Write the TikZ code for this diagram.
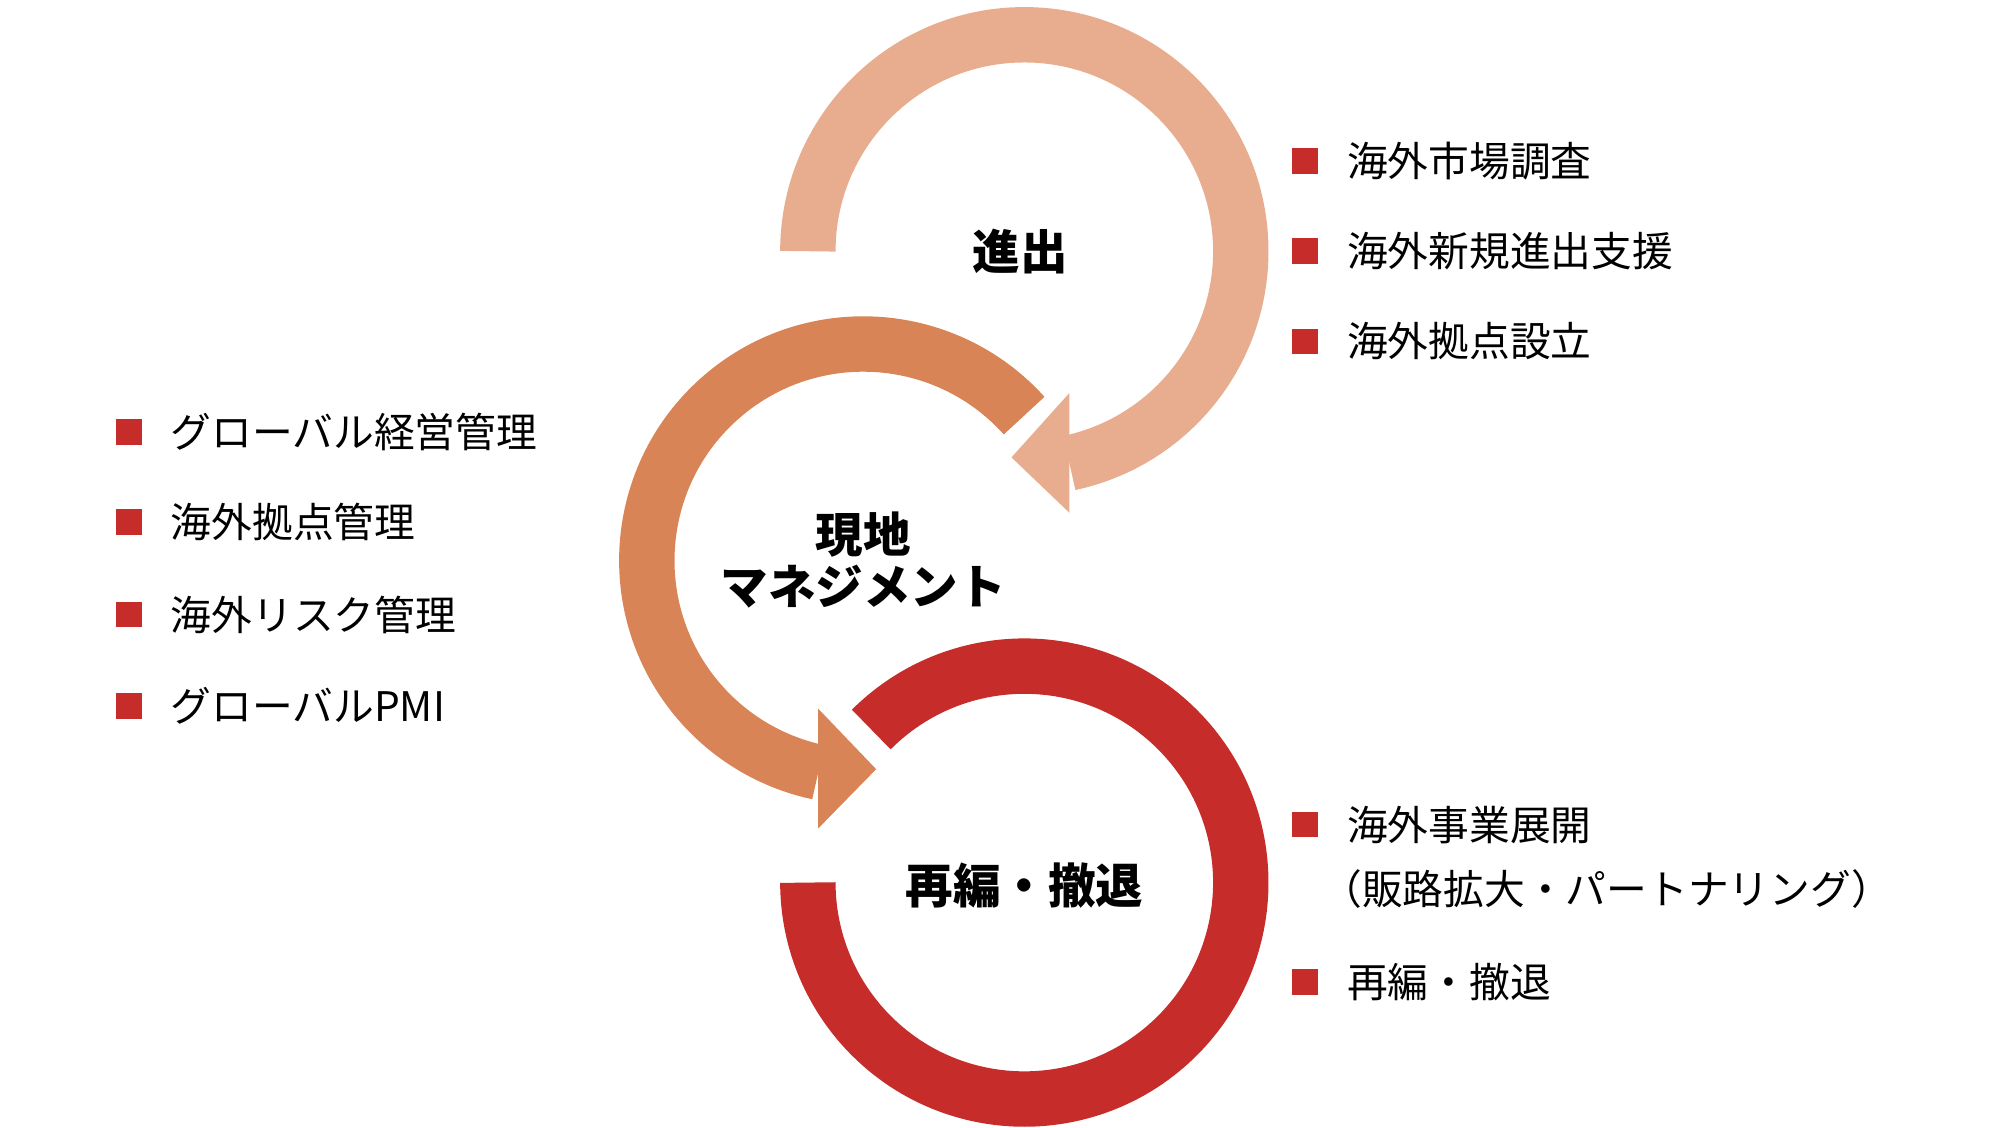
\documentclass[tikz,border=0pt]{standalone}
\usepackage{fontspec}
\setmainfont{Noto Sans CJK JP}
\definecolor{ringA}{HTML}{E8AD8E}
\definecolor{ringB}{HTML}{D98457}
\definecolor{ringC}{HTML}{C62D2A}
\tikzset{
  ring/.style={line width=43*0.02cm},
  hub/.style={font=\fontsize{21}{25}\selectfont\bfseries, align=center},
  item/.style={anchor=west, font=\fontsize{18}{22}\selectfont},
  bullet/.style={fill=ringC, minimum size=20*0.02cm, inner sep=0pt}
}
\newcommand{\listitem}[3]{
  \node[bullet] (b#1) at (#2) {};
  \node[item] (t#1) at ([xshift=16*0.02cm]b#1.east) {#3};
}
\begin{document}
\begin{tikzpicture}[x=0.02cm,y=0.02cm]
\useasboundingbox (0,0) rectangle (1560,875);
% rings
\draw[ring, ringA] (795,680) ++(180:168) arc (180:-78:168);
\fill[ringA] (830,570) -- (785,520) -- (830,477) -- cycle;
\draw[ring, ringB] (670,440) ++(42:168) arc (42:258:168);
\fill[ringB] (635,325) -- (680,278) -- (635,232) -- cycle;
\draw[ring, ringC] (795,190) ++(135:168) arc (135:-180:168);
% hubs
\node[hub] (entry) at (792,680) {進出};
\node[hub] (local) at (670,440) {現地\\[-2pt]マネジメント};
\node[hub] (exit) at (795,188) {再編・撤退};
% lists
\listitem{a1}{1013,750}{海外市場調査}
\listitem{a2}{1013,680}{海外新規進出支援}
\listitem{a3}{1013,610}{海外拠点設立}
\listitem{b1}{100,540}{グローバル経営管理}
\listitem{b2}{100,470}{海外拠点管理}
\listitem{b3}{100,398}{海外リスク管理}
\listitem{b4}{100,327}{グローバルPMI}
\listitem{c1}{1013,235}{海外事業展開}
\node[item] (c1b) at ([xshift=-20*0.02cm,yshift=-50*0.02cm]tc1.west) {（販路拡大・パートナリング）};
\listitem{c2}{1013,113}{再編・撤退}
\end{tikzpicture}
\end{document}
